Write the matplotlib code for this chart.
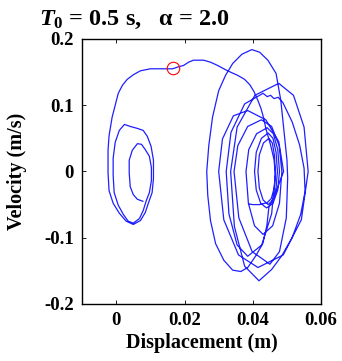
import matplotlib
matplotlib.use("Agg")
import matplotlib.pyplot as plt

plt.rcParams['font.family'] = ['Liberation Serif', 'DejaVu Serif']
plt.rcParams['font.weight'] = 'bold'
plt.rcParams['mathtext.fontset'] = 'custom'
plt.rcParams['mathtext.rm'] = 'Liberation Serif:bold'
plt.rcParams['mathtext.it'] = 'Liberation Serif:italic:bold'
plt.rcParams['mathtext.bf'] = 'Liberation Serif:bold'

# Free-vibration phase: oscillation about the initial position
disp_left = [0.0078, 0.0062, 0.0050, 0.0041, 0.0038, 0.0038, 0.0047, 0.0062, 0.0074, 0.0085,
             0.0097, 0.0103, 0.0103,
             0.0097, 0.0088, 0.0079, 0.0068, 0.0050, 0.0035, 0.0021, 0.0006, -0.0006, -0.0009,
             -0.0009, -0.0003, 0.0009, 0.0024, 0.0041, 0.0062, 0.0079, 0.0091, 0.0102, 0.0109,
             0.0109, 0.0105, 0.0094, 0.0085, 0.0071, 0.0050, 0.0029, 0.0009, -0.0009, -0.0021,
             -0.0024, -0.0024]
vel_left = [-0.045, -0.042, -0.035, -0.023, -0.002, 0.017, 0.032, 0.042, 0.041, 0.033,
            0.023, 0.006, -0.014,
            -0.032, -0.044, -0.059, -0.071, -0.078, -0.075, -0.065, -0.051, -0.032, -0.006,
            0.020, 0.044, 0.062, 0.071, 0.068, 0.065, 0.062, 0.053, 0.038, 0.017,
            -0.011, -0.032, -0.048, -0.062, -0.074, -0.080, -0.075, -0.063, -0.048, -0.029,
            -0.002, 0.032]

# Pulse-driven excursion towards the new position
disp_jump = [-0.0021, -0.0012, -0.0003, 0.0006, 0.0018, 0.0032, 0.0050, 0.0071, 0.0100, 0.0138,
             0.0165, 0.0182, 0.0197, 0.0212, 0.0226, 0.0256, 0.0276, 0.0297, 0.0326, 0.0356,
             0.0376, 0.0391, 0.0403, 0.0415, 0.0424, 0.0432, 0.0438]
vel_jump = [0.054, 0.082, 0.100, 0.118, 0.130, 0.139, 0.146, 0.152, 0.155, 0.155,
            0.155, 0.158, 0.160, 0.165, 0.168, 0.168, 0.165, 0.160, 0.152, 0.145,
            0.139, 0.131, 0.121, 0.107, 0.095, 0.080, 0.065]

# Oscillation about the shifted position
disp_right = [0.0452, 0.0462, 0.0466, 0.0455, 0.0426, 0.0385, 0.0354, 0.0330, 0.0322, 0.0336,
              0.0376, 0.0430, 0.0442, 0.0452, 0.0462, 0.0474, 0.0488, 0.0515, 0.0537, 0.0550,
              0.0553, 0.0540, 0.0515, 0.0485, 0.0455, 0.0418, 0.0376, 0.0346, 0.0335, 0.0354,
              0.0406, 0.0476, 0.0519,
              0.0550, 0.0562, 0.0542, 0.0489, 0.0415, 0.0358, 0.0315, 0.0300, 0.0311, 0.0343,
              0.0385, 0.0438, 0.0476, 0.0490, 0.0465, 0.0447, 0.0441, 0.0429, 0.0409, 0.0385,
              0.0365, 0.0341, 0.0315, 0.0291, 0.0276, 0.0268, 0.0265, 0.0271, 0.0282, 0.0300,
              0.0320, 0.0341, 0.0368, 0.0397, 0.0420, 0.0444, 0.0468, 0.0482, 0.0491, 0.0500,
              0.0502, 0.0498, 0.0478,
              0.0450, 0.0398, 0.0359, 0.0345, 0.0356, 0.0385, 0.0425, 0.0455, 0.0477, 0.0485,
              0.0478, 0.0458, 0.0430, 0.0405, 0.0387, 0.0380, 0.0388, 0.0411, 0.0442, 0.0460,
              0.0473, 0.0478, 0.0473, 0.0459, 0.0440, 0.0423, 0.0410, 0.0405, 0.0410, 0.0425,
              0.0445, 0.0459, 0.0468, 0.0472, 0.0468, 0.0459, 0.0445, 0.0430, 0.0419, 0.0415,
              0.0419, 0.0431, 0.0447, 0.0457, 0.0463, 0.0466, 0.0463, 0.0454, 0.0442, 0.0420,
              0.0400, 0.0388]
vel_right = [0.040, 0.018, -0.005, -0.064, -0.111, -0.128, -0.111, -0.064, 0.000, 0.059,
             0.102, 0.118, 0.113, 0.115, 0.110, 0.112, 0.104, 0.075, 0.040, 0.005,
             -0.030, -0.065, -0.100, -0.127, -0.148, -0.165, -0.143, -0.083, 0.000, 0.067,
             0.115, 0.133, 0.115,
             0.067, 0.000, -0.073, -0.126, -0.145, -0.126, -0.073, 0.000, 0.049, 0.084,
             0.092, 0.078, 0.045, 0.000, -0.035, -0.054, -0.082, -0.109, -0.127, -0.145,
             -0.151, -0.149, -0.134, -0.109, -0.074, -0.036, 0.000, 0.039, 0.082, 0.122,
             0.145, 0.163, 0.177, 0.184, 0.180, 0.168, 0.148, 0.107, 0.062, 0.017,
             -0.010, -0.070, -0.121,
             -0.140, -0.121, -0.070, 0.000, 0.039, 0.068, 0.078, 0.068, 0.039, 0.000,
             -0.048, -0.082, -0.095, -0.082, -0.048, 0.000, 0.033, 0.057, 0.066, 0.057,
             0.033, 0.000, -0.028, -0.048, -0.055, -0.048, -0.028, 0.000, 0.029, 0.050,
             0.058, 0.050, 0.029, 0.000, -0.025, -0.043, -0.050, -0.043, -0.025, 0.000,
             0.025, 0.043, 0.050, 0.043, 0.025, 0.000, -0.024, -0.041, -0.047, -0.050,
             -0.050, -0.049]

# Marked instant on the trajectory
mark_disp = 0.0167
mark_vel = 0.156

x_ticks = [0, 0.02, 0.04, 0.06]
x_tick_labels = ['0', '0.02', '0.04', '0.06']
y_ticks = [-0.2, -0.1, 0, 0.1, 0.2]
y_tick_labels = ['-0.2', '-0.1', '0', '0.1', '0.2']

disp = disp_left + disp_jump + disp_right
vel = vel_left + vel_jump + vel_right

fig = plt.figure(figsize=(3.42, 3.61), dpi=100)
ax = fig.add_axes([0.240, 0.158, 0.699, 0.734])

ax.plot(disp, vel, color='#1f1fff', lw=0.9)
ax.plot([mark_disp], [mark_vel], marker='o', ms=9, mfc='none', mec='red', mew=0.8, ls='none')

ax.set_xlim(-0.01, 0.06)
ax.set_ylim(-0.2, 0.2)
ax.set_xticks(x_ticks)
ax.set_xticklabels(x_tick_labels)
ax.set_yticks(y_ticks)
ax.set_yticklabels(y_tick_labels)
ax.tick_params(direction='in', length=3, width=0.6, top=True, right=True,
               labelsize=13.5, pad=6)
for lab in ax.get_xticklabels() + ax.get_yticklabels():
    lab.set_fontweight('bold')
for s in ax.spines.values():
    s.set_linewidth(1.0)

ax.set_xlabel('Displacement (m)', fontsize=14.5, fontweight='bold', labelpad=3)
ax.set_ylabel('Velocity (m/s)', fontsize=14.5, fontweight='bold', labelpad=12)
ax.set_title(r'$T_0$ = 0.5 s,   α = 2.0', fontsize=17.5, fontweight='bold', loc='left',
             x=-0.18, pad=10)

fig.savefig('out.png', dpi=100)
